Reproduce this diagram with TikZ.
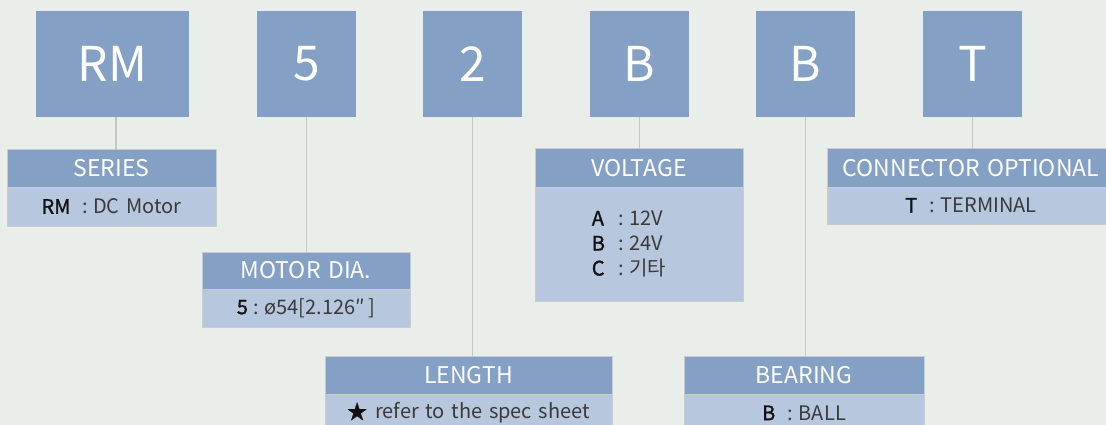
\documentclass[tikz,border=0pt]{standalone}
\usepackage{fontspec}
\setmainfont[WordSpace=1.5]{Noto Sans CJK KR}
\newfontfamily\codefont[FakeBold=1.2]{Noto Sans CJK KR}
\definecolor{bgc}{HTML}{E9EEEA}
\definecolor{topc}{HTML}{84A0C5}
\definecolor{headc}{HTML}{84A0C5}
\definecolor{bodyc}{HTML}{B7C7DE}
\definecolor{bordc}{HTML}{C8CCCC}
\definecolor{linec}{HTML}{C3C6C6}
\definecolor{codec}{HTML}{111111}
\definecolor{descc}{HTML}{3A3A3A}
\newcommand\kcode[1]{{\codefont\color{codec}#1}}
\begin{document}
\begin{tikzpicture}[x=1pt,y=-1pt,
  topbox/.style={fill=topc, inner sep=0pt, outer sep=0pt, text=white,
    minimum height=106pt, font=\fontsize{48}{50}\selectfont},
  headbox/.style={fill=headc, draw=bordc, line width=1pt, inner sep=0pt, outer sep=0pt,
    text=white, font=\fontsize{23}{26}\selectfont},
  bodybox/.style={fill=bodyc, draw=bordc, line width=1pt, inner sep=0pt, outer sep=0pt,
    text=descc, font=\fontsize{20}{25}\selectfont},
  plaintext/.style={inner sep=0pt, outer sep=0pt, text=descc, font=\fontsize{20}{25}\selectfont},
  conn/.style={draw=linec, line width=1.4pt}]
\useasboundingbox (0,0) rectangle (1106,425);
\fill[bgc] (0,0) rectangle (1106,425);
\begin{scope}
\clip (0,0) rectangle (1106,425);
% top code boxes
\node[topbox, minimum width=153pt] (rm) at (112.5,64) {RM};
\node[topbox, minimum width=99pt] (dia) at (306.5,64) {5};
\node[topbox, minimum width=99pt] (len) at (472.5,64) {2};
\node[topbox, minimum width=99pt] (vol) at (639.5,64) {B};
\node[topbox, minimum width=99pt] (bea) at (805.5,64) {B};
\node[topbox, minimum width=99pt] (con) at (972.5,64) {T};
% SERIES
\node[bodybox, minimum width=209pt, minimum height=39pt] (serb) at (111.5,206.5)
  {\kcode{RM}\hspace{12pt}:\hspace{5pt}DC Motor};
\node[headbox, minimum width=209pt, minimum height=37pt] (serh) at (111.5,168.5) {SERIES};
% MOTOR DIA
\node[bodybox, minimum width=208pt, minimum height=38pt] (diab) at (306,308)
  {\kcode{5}\hspace{6pt}:\hspace{5pt}ø54[2.126″\,]};
\node[headbox, minimum width=208pt, minimum height=37pt] (diah) at (306,270.5) {MOTOR DIA.};
% LENGTH
\node[bodybox, minimum width=287pt, minimum height=38pt] (lenb) at (468.5,413)
  {\kcode{★}\hspace{8pt}refer to the spec sheet};
\node[headbox, minimum width=287pt, minimum height=38pt] (lenh) at (468.5,375) {LENGTH};
% VOLTAGE
\node[bodybox, minimum width=208pt, minimum height=114pt] (volb) at (639,244) {};
\node[plaintext, align=left] (volt) at (629,244)
  {\makebox[27pt][l]{\kcode{A}}:\hspace{5pt}12V\\
   \makebox[27pt][l]{\kcode{B}}:\hspace{5pt}24V\\
   \makebox[27pt][l]{\kcode{C}}:\hspace{5pt}기타};
\node[headbox, minimum width=208pt, minimum height=38pt] (volh) at (639,168) {VOLTAGE};
% BEARING
\node[bodybox, minimum width=240pt, minimum height=38pt] (beab) at (804,413)
  {\kcode{B}\hspace{12pt}:\hspace{6pt}BALL};
\node[headbox, minimum width=240pt, minimum height=38pt] (beah) at (804,375) {BEARING};
% CONNECTOR OPTIONAL
\node[bodybox, minimum width=288pt, minimum height=37pt] (conb) at (971,205.5)
  {\kcode{T}\hspace{12pt}:\hspace{6pt}TERMINAL};
\node[headbox, minimum width=288pt, minimum height=38pt] (conh) at (971,168) {CONNECTOR OPTIONAL};
% connectors
\draw[conn] ([xshift=3.5pt]rm.south) -- ([xshift=3.5pt]rm.south |- serh.north);
\draw[conn] (dia.south) -- (dia.south |- diah.north);
\draw[conn] (len.south) -- (len.south |- lenh.north);
\draw[conn] (vol.south) -- (vol.south |- volh.north);
\draw[conn] (bea.south) -- (bea.south |- beah.north);
\draw[conn] (con.south) -- (con.south |- conh.north);
\end{scope}
\end{tikzpicture}
\end{document}
